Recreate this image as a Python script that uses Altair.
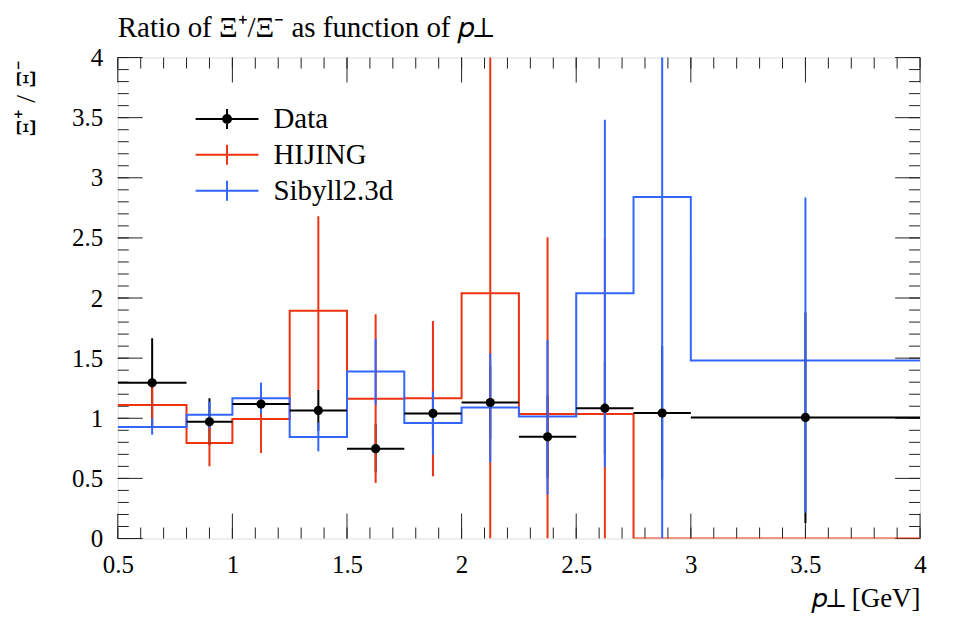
import altair as alt
import pandas as pd
import numpy as np

# ---------------- data ----------------
edges = [0.5, 0.8, 1.0, 1.25, 1.5, 1.75, 2.0, 2.25, 2.5, 2.75, 3.0, 4.0]

data_y = [1.295, 0.971, 1.118, 1.065, 0.747, 1.040, 1.131, 0.846, 1.084, 1.043, 1.007]
data_lo = [0.925, 0.775, 1.020, 0.895, 0.550, 0.840, 0.830, 0.500, 0.700, 0.490, 0.130]
data_hi = [1.665, 1.167, 1.220, 1.236, 0.950, 1.240, 1.430, 1.190, 1.470, 1.600, 1.880]

hijing_y = [1.110, 0.794, 0.993, 1.895, 1.162, 1.167, 2.039, 1.035, 1.035, 0.0, 0.0]
hijing_lo = [0.950, 0.600, 0.711, 1.236, 0.462, 0.517, 0.000, 0.000, 0.000, 0.0, 0.0]
hijing_hi = [1.270, 0.980, 1.275, 2.680, 1.865, 1.809, 4.300, 2.506, 2.500, 0.0, 0.0]

sibyll_y = [0.927, 1.029, 1.167, 0.844, 1.389, 0.960, 1.090, 1.015, 2.039, 2.841, 1.480]
sibyll_lo = [0.863, 0.920, 1.037, 0.725, 1.112, 0.697, 0.633, 0.365, 0.592, 0.000, 0.215]
sibyll_hi = [1.000, 1.140, 1.297, 0.964, 1.660, 1.222, 1.540, 1.651, 3.483, 4.300, 2.836]

series_names = ["Data", "HIJING", "Sibyll2.3d"]
series_colors = ["black", "#EE3311", "#3366FF"]

x_ticks_major = [0.5, 1.0, 1.5, 2.0, 2.5, 3.0, 3.5, 4.0]
y_ticks_major = [0, 0.5, 1, 1.5, 2, 2.5, 3, 3.5, 4]
x_ticks_minor = [round(v, 2) for v in np.arange(0.5, 4.0001, 0.1)]
y_ticks_minor = [round(v, 2) for v in np.arange(0.0, 4.0001, 0.1)]

# ---------------- layout / style ----------------
W, H = 804, 482
FONT = "Liberation Serif"
LW = 2

xc = [(edges[i] + edges[i + 1]) / 2 for i in range(len(edges) - 1)]


def points(name, y, lo, hi):
    return pd.DataFrame({"series": name, "xlo": edges[:-1], "xhi": edges[1:],
                         "xc": xc, "y": y, "lo": lo, "hi": hi})


def steps(name, y):
    return pd.DataFrame({"series": name, "x": edges, "y": list(y) + [y[-1]]})


df_data = points("Data", data_y, data_lo, data_hi)
df_hij = points("HIJING", hijing_y, hijing_lo, hijing_hi)
df_sib = points("Sibyll2.3d", sibyll_y, sibyll_lo, sibyll_hi)

xs = alt.Scale(domain=[0.5, 4.0], nice=False, zero=False)
ys = alt.Scale(domain=[0, 4.0], nice=False, zero=False)

xaxis = alt.Axis(values=x_ticks_major, format="~g", ticks=False, domain=False, grid=False,
                 labelFont=FONT, labelFontSize=25, labelColor="black", labelPadding=14,
                 labelBaseline="top", labelFlush=False,
                 title="𝑝⊥ [GeV]", titleFont=FONT, titleFontSize=27, titleFontWeight="normal",
                 titleColor="black", titleAlign="right", titleAnchor="end",
                 titleX=W, titleY=68, titleBaseline="alphabetic")
yaxis = alt.Axis(values=y_ticks_major, format="~g", ticks=False, domain=False, grid=False,
                 labelFont=FONT, labelFontSize=25, labelColor="black", labelPadding=15,
                 labelBaseline="middle", labelFlush=False,
                 title="Ξ⁺ / Ξ⁻", titleFont=FONT, titleFontSize=28, titleFontWeight="normal",
                 titleColor="black", titleAngle=270, titleAlign="right", titleAnchor="end",
                 titleX=-91, titleY=3, titleBaseline="middle")


def X(f):
    return alt.X(f, type="quantitative", scale=xs, axis=xaxis)


def Y(f):
    return alt.Y(f, type="quantitative", scale=ys, axis=yaxis)


def hist(df_name, y, color):
    return alt.Chart(steps(df_name, y)).mark_line(
        interpolate="step-after", color=color, strokeWidth=LW, clip=True
    ).encode(x=X("x"), y=Y("y"))


def errbars(df, color):
    return alt.Chart(df).transform_filter("datum.hi > datum.lo").mark_rule(
        color=color, strokeWidth=LW, clip=True
    ).encode(x=X("xc"), y=Y("lo"), y2="hi")


hist_hij = hist("HIJING", hijing_y, series_colors[1])
hist_sib = hist("Sibyll2.3d", sibyll_y, series_colors[2])

data_h = alt.Chart(df_data).mark_rule(color="black", strokeWidth=LW, clip=True).encode(
    x=X("xlo"), x2="xhi", y=Y("y"))
data_v = errbars(df_data, "black")
err_hij = errbars(df_hij, series_colors[1])
err_sib = errbars(df_sib, series_colors[2])
data_pts = alt.Chart(df_data).mark_circle(color="black", size=85, opacity=1).encode(
    x=X("xc"), y=Y("y"))

# legend built from the scale domain (custom SVG symbols)
circ = "".join(f"M{r},0A{r},{r} 0 1,1 -{r},0A{r},{r} 0 1,1 {r},0" for r in (0.1, 0.25, 0.4))
cross = "M-3.15,0H3.15M0,-1V1"
leg = alt.Legend(title=None, orient="none", legendX=95, legendY=47,
                 padding=0, labelFont=FONT, labelFontSize=29,
                 labelColor="black", labelOffset=32, rowPadding=6,
                 symbolSize=400, symbolStrokeWidth=LW, symbolOpacity=1,
                 labelLimit=300)
legend_layer = alt.Chart(df_data).transform_filter("false").mark_point(
    filled=False, strokeWidth=LW
).encode(
    x=X("xc"), y=Y("y"),
    color=alt.Color("series:N", scale=alt.Scale(domain=series_names, range=series_colors),
                    legend=leg),
    shape=alt.Shape("series:N", scale=alt.Scale(domain=series_names,
                                                range=[cross + circ, cross, cross]),
                    legend=leg),
)

# inward ticks on all four sides
TICK = "#222222"
MAJ, MIN = 25, 11


def xtick_layer(vals, y0, y1):
    return alt.Chart(pd.DataFrame({"v": vals})).mark_rule(color=TICK, strokeWidth=1).encode(
        x=X("v"), y=alt.value(y0), y2=alt.value(y1))


def ytick_layer(vals, x0, x1):
    return alt.Chart(pd.DataFrame({"v": vals})).mark_rule(color=TICK, strokeWidth=1).encode(
        y=Y("v"), x=alt.value(x0), x2=alt.value(x1))


ticks = [
    xtick_layer(x_ticks_minor, H, H - MIN), xtick_layer(x_ticks_major, H, H - MAJ),
    xtick_layer(x_ticks_minor, 0, MIN), xtick_layer(x_ticks_major, 0, MAJ),
    ytick_layer(y_ticks_minor, 0, MIN), ytick_layer(y_ticks_major, 0, MAJ),
    ytick_layer(y_ticks_minor, W, W - MIN), ytick_layer(y_ticks_major, W, W - MAJ),
]

chart = alt.layer(
    *ticks, hist_hij, hist_sib, data_h, data_v, err_hij, err_sib, data_pts, legend_layer
).properties(
    width=W, height=H,
    autosize=alt.AutoSizeParams(type="none"),
    padding={"left": 110, "top": 49, "right": 25, "bottom": 78},
    title=alt.TitleParams("Ratio of Ξ⁺/Ξ⁻ as function of 𝑝⊥", anchor="start", frame="group",
                          font=FONT, fontSize=29, fontWeight="normal", color="black",
                          offset=3),
).configure_view(stroke="#222222", strokeWidth=1.2).configure(background="white")

chart.save("out.html", embed_options={"renderer": "svg", "actions": False})
